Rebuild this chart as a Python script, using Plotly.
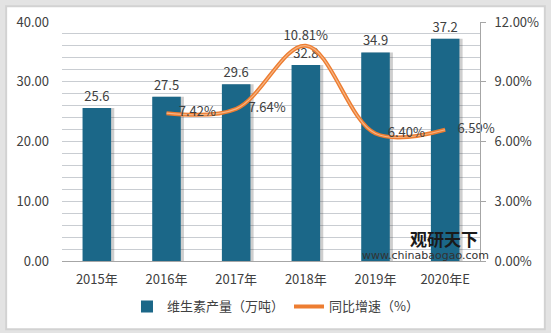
import plotly.graph_objects as go

years = ["2015年", "2016年", "2017年", "2018年", "2019年", "2020年E"]
output = [25.6, 27.5, 29.6, 32.8, 34.9, 37.2]
growth_years = ["2016年", "2017年", "2018年", "2019年", "2020年E"]
growth = [0.0742, 0.0764, 0.1081, 0.0640, 0.0659]
growth_pos = ["middle right", "middle right", "top center", "middle right", "middle right"]

FONT = "Noto Sans CJK SC, Noto Sans, sans-serif"
BAR = "#1B6788"
ORANGE = "#ED7D31"

# plot area in pixels
L, R, T, B = 62, 481, 19, 261
W, H = 551, 333
def px(x): return (x - L) / (R - L)
def py(y): return (B - y) / (B - T)

fig = go.Figure()

# bar shadow
fig.add_trace(go.Bar(
    x=years, y=output, width=0.44, offset=-0.19,
    marker=dict(color="rgba(60,60,60,0.25)", line=dict(width=0)),
    showlegend=False, hoverinfo="skip"))

fig.add_trace(go.Bar(
    x=years, y=output, name="维生素产量（万吨）", width=0.41, offset=-0.205,
    marker=dict(color=BAR, line=dict(width=0)),
    texttemplate="%{y:.1f}", textposition="outside",
    textfont=dict(size=13, color="#404040", family=FONT),
    cliponaxis=False))

fig.add_trace(go.Scatter(
    x=growth_years, y=growth, yaxis="y2", name="同比增速（%）",
    mode="lines", line=dict(color=ORANGE, width=4, shape="spline", smoothing=1.0)))
fig.add_trace(go.Scatter(
    x=growth_years, y=growth, yaxis="y2", mode="lines",
    line=dict(color="#F6B585", width=1.2, shape="spline", smoothing=1.0),
    showlegend=False, hoverinfo="skip"))
fig.add_trace(go.Scatter(
    x=growth_years, y=growth, yaxis="y2", mode="markers+text",
    marker=dict(size=[18, 18, 2, 18, 18], opacity=0),
    texttemplate="%{y:.2%}", textposition=growth_pos,
    textfont=dict(size=13, color="#404040", family=FONT),
    showlegend=False, hoverinfo="skip", cliponaxis=False))

fig.update_layout(
    width=W, height=H,
    margin=dict(l=L, r=W - R, t=T, b=H - B),
    paper_bgcolor="#E3E3E3",
    plot_bgcolor="#EBF2F9",
    barmode="overlay",
    font=dict(family=FONT, size=13, color="#404040"),
    xaxis=dict(showline=True, linecolor="#A6A6A6", linewidth=1, ticks="",
               tickfont=dict(size=13), showgrid=False, ticklabelstandoff=6),
    yaxis=dict(range=[0, 40], dtick=10, tickformat=".2f", showgrid=True,
               gridcolor="#C9CDD2", gridwidth=1, zeroline=False, ticks="",
               minor=dict(dtick=2, showgrid=True, gridcolor="#C9CDD2", gridwidth=1),
               ticklabelstandoff=12),
    yaxis2=dict(range=[0, 0.12], dtick=0.03, tickformat=".2%", overlaying="y",
                side="right", showgrid=False, zeroline=False, showline=True,
                linecolor="#A6A6A6", ticks="outside", ticklen=5, tickcolor="#A6A6A6",
                ticklabelstandoff=6),
    legend=dict(orientation="h", x=px(276), y=py(307), xanchor="center", yanchor="middle",
                font=dict(size=13, color="#404040"), traceorder="normal",
                itemwidth=30, bgcolor="rgba(0,0,0,0)"),
    shapes=[
        dict(type="rect", xref="paper", yref="paper", layer="below",
             x0=px(5), x1=px(547), y0=py(331), y1=py(2),
             fillcolor="#D2D2D2", line=dict(width=0)),
        dict(type="rect", xref="paper", yref="paper", layer="below",
             x0=px(7), x1=px(545), y0=py(329), y1=py(4),
             fillcolor="#FFFFFF", line=dict(width=0)),
    ],
    annotations=[
        dict(text="<b>观研天下</b>", xref="paper", yref="paper", x=px(445), y=py(238),
             xanchor="center", yanchor="middle",
             showarrow=False, font=dict(size=17, color="#1A1A1A", family=FONT)),
        dict(text="www.chinabaogao.com", xref="paper", yref="paper", x=px(426), y=py(255),
             xanchor="center", yanchor="middle",
             showarrow=False, font=dict(size=11, color="#333333", family="DejaVu Sans")),
    ],
)

fig.write_html("out.html")
